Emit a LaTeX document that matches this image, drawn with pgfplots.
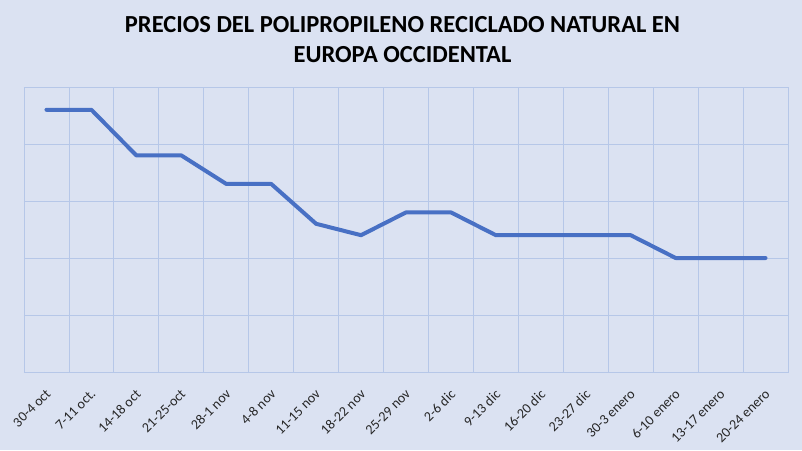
\documentclass[border=0pt]{standalone}
\usepackage{pgfplots}
\pgfplotsset{compat=1.18}
\usepackage{fontspec}
\setmainfont{Carlito}
\definecolor{bgc}{RGB}{219,226,242}
\definecolor{gridc}{RGB}{182,199,232}
\definecolor{linec}{RGB}{72,112,196}
\begin{document}
\begin{tikzpicture}[x=1pt,y=1pt]
\useasboundingbox (0,0) rectangle (802,450);
\fill[bgc] (0,0) rectangle (802,450);
\node[font=\bfseries\fontsize{24.5}{30}\selectfont, anchor=base, inner sep=0pt] at (402.5,417) {PRECIOS DEL POLIPROPILENO RECICLADO NATURAL EN};
\node[font=\bfseries\fontsize{24.5}{30}\selectfont, anchor=base, inner sep=0pt] at (402.5,387) {EUROPA OCCIDENTAL};
\begin{axis}[
  at={(24pt,78pt)}, anchor=south west,
  scale only axis, width=764pt, height=285pt,
  xmin=-0.5, xmax=16.5, ymin=0, ymax=5,
  axis line style={draw=gridc},
  xtick={0,...,16},
  minor xtick={-0.5,0.5,...,16.5},
  xticklabels={30-4 oct,7-11 oct.,14-18 oct,21-25-oct,28-1 nov,4-8 nov,11-15 nov,18-22 nov,25-29 nov,2-6 dic,9-13 dic,16-20 dic,23-27 dic,30-3 enero,6-10 enero,13-17 enero,20-24 enero},
  x tick label style={rotate=45, anchor=north east, font=\fontsize{14}{14}\selectfont, text=black!85, inner sep=0pt, yshift=-10.5pt, xshift=-12.5pt},
  major tick length=0pt, minor tick length=0pt,
  ytick={0,1,...,5}, yticklabels={},
  xmajorgrids=false, xminorgrids=true, ymajorgrids=true,
  grid style={draw=gridc, line width=0.8pt},
  minor grid style={draw=gridc, line width=0.8pt},
]
\addplot[linec, line width=4pt, line cap=round, line join=round] coordinates {
(0,4.6) (1,4.6) (2,3.8) (3,3.8) (4,3.3) (5,3.3) (6,2.6) (7,2.4) (8,2.8) (9,2.8) (10,2.4) (11,2.4) (12,2.4) (13,2.4) (14,2.0) (15,2.0) (16,2.0)
};
\end{axis}
\end{tikzpicture}
\end{document}
